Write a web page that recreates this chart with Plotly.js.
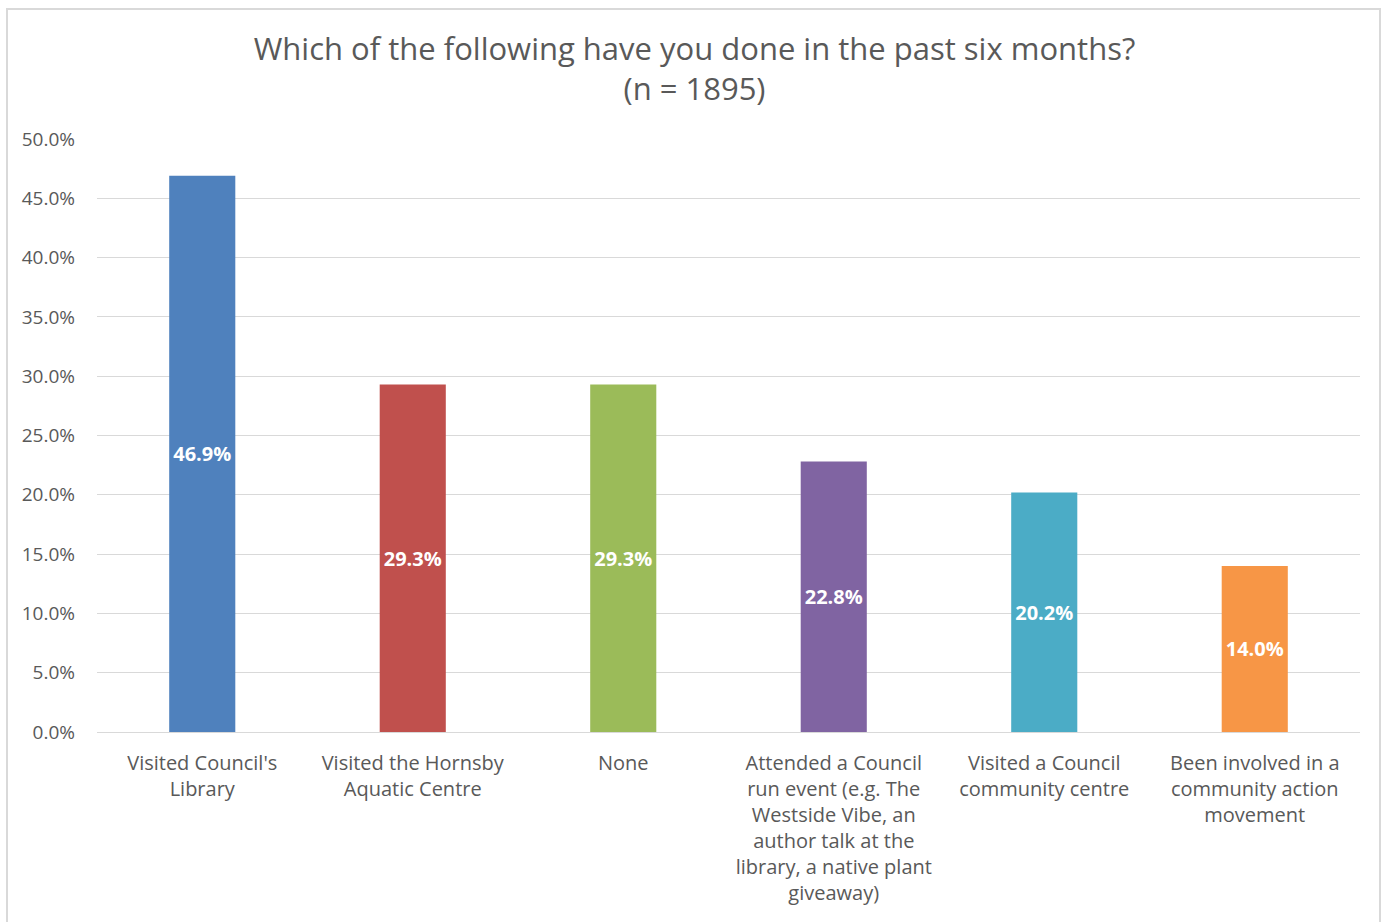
<!DOCTYPE html>
<html>
<head>
<meta charset="utf-8">
<script src="https://cdn.plot.ly/plotly-3.0.1.min.js"></script>
<style>
html,body{margin:0;padding:0;background:#fff;}
#frame{position:absolute;left:6px;top:8px;width:1375px;height:930px;border:2px solid #d9d9d9;box-sizing:border-box;}
#chart{position:absolute;left:0;top:0;width:1389px;height:922px;}
</style>
</head>
<body>
<div id="frame"></div>
<div id="chart"></div>
<script>
var categories = [
  "Visited Council's<br>Library",
  "Visited the Hornsby<br>Aquatic Centre",
  "None",
  "Attended a Council<br>run event (e.g. The<br>Westside Vibe, an<br>author talk at the<br>library, a native plant<br>giveaway)",
  "Visited a Council<br>community centre",
  "Been involved in a<br>community action<br>movement"
];
var values = [46.9, 29.3, 29.3, 22.8, 20.2, 14.0];
var barColors = ["#4F81BD", "#C0504D", "#9BBB59", "#8064A2", "#4BACC6", "#F79646"];
var yTicks = [0, 5, 10, 15, 20, 25, 30, 35, 40, 45, 50];
var yTickText = yTicks.map(function(v){ return v.toFixed(1) + "%"; });

var trace = {
  type: "bar",
  x: categories,
  y: values,
  marker: {color: barColors},
  width: 0.314,
  text: values.map(function(v){ return "<b>" + v.toFixed(1) + "%</b>"; }),
  textposition: "inside",
  insidetextanchor: "middle",
  textangle: 0,
  textfont: {family: "Open Sans, sans-serif", size: 20, color: "#ffffff"},
  hoverinfo: "none",
  cliponaxis: false
};

var layout = {
  width: 1389,
  height: 922,
  paper_bgcolor: "rgba(0,0,0,0)",
  plot_bgcolor: "rgba(0,0,0,0)",
  margin: {l: 97, r: 29, t: 139, b: 190},
  showlegend: false,
  font: {family: "Open Sans, sans-serif", color: "#595959"},
  title: {
    text: "Which of the following have you done in the past six months?<br>(n = 1895)",
    font: {family: "Open Sans, sans-serif", size: 31, color: "#595959"},
    x: 0.5, xanchor: "center",
    y: 0.935, yanchor: "top"
  },
  xaxis: {
    type: "category",
    showgrid: false,
    showline: true,
    linecolor: "#d9d9d9",
    linewidth: 1,
    ticks: "",
    tickfont: {family: "Open Sans, sans-serif", size: 20, color: "#595959"},
    ticklabelstandoff: 13,
    fixedrange: true
  },
  yaxis: {
    range: [0, 50],
    tickvals: yTicks,
    ticktext: yTickText,
    showgrid: true,
    gridcolor: "#d9d9d9",
    gridwidth: 1,
    zeroline: false,
    showline: false,
    ticks: "",
    tickfont: {family: "Open Sans, sans-serif", size: 19, color: "#595959"},
    ticklabelstandoff: 21,
    fixedrange: true
  },
  bargap: 0.686
};

Plotly.newPlot("chart", [trace], layout, {displayModeBar: false, staticPlot: true});
</script>
</body>
</html>
